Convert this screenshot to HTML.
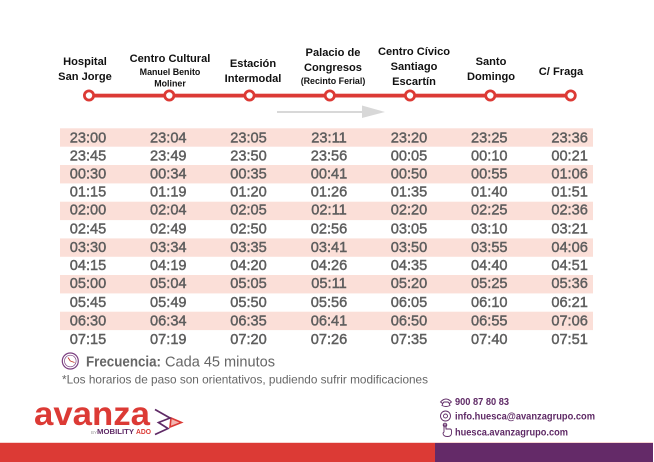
<!DOCTYPE html>
<html lang="es">
<head>
<meta charset="utf-8">
<title>Horario Huesca</title>
<style>
html,body{margin:0;padding:0;background:#fff;width:654px;height:462px;overflow:hidden}
svg{display:block;font-family:"Liberation Sans",sans-serif}
.h{font-weight:700;font-size:11.1px;fill:#111;text-anchor:middle}
.s{font-weight:700;font-size:8.9px;fill:#111;text-anchor:middle}
.t text{font-size:14.6px;fill:#5e5e5e;text-anchor:middle;stroke:#5e5e5e;stroke-width:.45}
.c{font-weight:700;font-size:10px;fill:#5f2a66}
.band{fill:#fbdfd8}
</style>
</head>
<body>
<svg width="654" height="462" viewBox="0 0 654 462">
<rect width="654" height="462" fill="#fff"/>

<g>
<g><text class="h" x="85" y="65">Hospital</text><text class="h" x="85" y="80">San Jorge</text></g>
<g><text class="h" x="170" y="62">Centro Cultural</text><text class="s" x="170" y="75">Manuel Benito</text><text class="s" x="170" y="86.5">Moliner</text></g>
<g><text class="h" x="253" y="67">Estación</text><text class="h" x="253" y="82">Intermodal</text></g>
<g><text class="h" x="333" y="56">Palacio de</text><text class="h" x="333" y="71">Congresos</text><text class="s" x="333" y="84">(Recinto Ferial)</text></g>
<g><text class="h" x="414" y="55">Centro Cívico</text><text class="h" x="414" y="70">Santiago</text><text class="h" x="414" y="85">Escartín</text></g>
<g><text class="h" x="491" y="65">Santo</text><text class="h" x="491" y="80">Domingo</text></g>
<g><text class="h" x="561" y="75">C/ Fraga</text></g>
</g>

<g>
<rect x="89" y="93.7" width="482" height="3.8" fill="#dc3a35"/>
<g fill="#fff" stroke="#dc3a35" stroke-width="2.8">
<circle cx="89" cy="95.5" r="4.6"/>
<circle cx="169.3" cy="95.5" r="4.6"/>
<circle cx="249.5" cy="95.5" r="4.6"/>
<circle cx="329.8" cy="95.5" r="4.6"/>
<circle cx="410" cy="95.5" r="4.6"/>
<circle cx="490.3" cy="95.5" r="4.6"/>
<circle cx="570.7" cy="95.5" r="4.6"/>
</g>
</g>

<g>
<rect x="277" y="111" width="86" height="2" fill="#d8d8d8"/>
<polygon points="362,105.5 385,112 362,118" fill="#d8d8d8"/>
</g>

<g>
<rect class="band" x="60" y="128.3" width="533" height="18.4"/>
<rect class="band" x="60" y="165" width="533" height="18.4"/>
<rect class="band" x="60" y="201.7" width="533" height="18.4"/>
<rect class="band" x="60" y="238.4" width="533" height="18.4"/>
<rect class="band" x="60" y="275" width="533" height="18.4"/>
<rect class="band" x="60" y="311.7" width="533" height="18.4"/>
</g>

<g class="t">
<g><text x="88" y="142.6">23:00</text><text x="168.3" y="142.6">23:04</text><text x="248.5" y="142.6">23:05</text><text x="329" y="142.6">23:11</text><text x="409" y="142.6">23:20</text><text x="489.3" y="142.6">23:25</text><text x="569.6" y="142.6">23:36</text></g>
<g><text x="88" y="160.7">23:45</text><text x="168.3" y="160.7">23:49</text><text x="248.5" y="160.7">23:50</text><text x="329" y="160.7">23:56</text><text x="409" y="160.7">00:05</text><text x="489.3" y="160.7">00:10</text><text x="569.6" y="160.7">00:21</text></g>
<g><text x="88" y="178.6">00:30</text><text x="168.3" y="178.6">00:34</text><text x="248.5" y="178.6">00:35</text><text x="329" y="178.6">00:41</text><text x="409" y="178.6">00:50</text><text x="489.3" y="178.6">00:55</text><text x="569.6" y="178.6">01:06</text></g>
<g><text x="88" y="196.6">01:15</text><text x="168.3" y="196.6">01:19</text><text x="248.5" y="196.6">01:20</text><text x="329" y="196.6">01:26</text><text x="409" y="196.6">01:35</text><text x="489.3" y="196.6">01:40</text><text x="569.6" y="196.6">01:51</text></g>
<g><text x="88" y="214.7">02:00</text><text x="168.3" y="214.7">02:04</text><text x="248.5" y="214.7">02:05</text><text x="329" y="214.7">02:11</text><text x="409" y="214.7">02:20</text><text x="489.3" y="214.7">02:25</text><text x="569.6" y="214.7">02:36</text></g>
<g><text x="88" y="233.5">02:45</text><text x="168.3" y="233.5">02:49</text><text x="248.5" y="233.5">02:50</text><text x="329" y="233.5">02:56</text><text x="409" y="233.5">03:05</text><text x="489.3" y="233.5">03:10</text><text x="569.6" y="233.5">03:21</text></g>
<g><text x="88" y="252">03:30</text><text x="168.3" y="252">03:34</text><text x="248.5" y="252">03:35</text><text x="329" y="252">03:41</text><text x="409" y="252">03:50</text><text x="489.3" y="252">03:55</text><text x="569.6" y="252">04:06</text></g>
<g><text x="88" y="270">04:15</text><text x="168.3" y="270">04:19</text><text x="248.5" y="270">04:20</text><text x="329" y="270">04:26</text><text x="409" y="270">04:35</text><text x="489.3" y="270">04:40</text><text x="569.6" y="270">04:51</text></g>
<g><text x="88" y="288">05:00</text><text x="168.3" y="288">05:04</text><text x="248.5" y="288">05:05</text><text x="329" y="288">05:11</text><text x="409" y="288">05:20</text><text x="489.3" y="288">05:25</text><text x="569.6" y="288">05:36</text></g>
<g><text x="88" y="307">05:45</text><text x="168.3" y="307">05:49</text><text x="248.5" y="307">05:50</text><text x="329" y="307">05:56</text><text x="409" y="307">06:05</text><text x="489.3" y="307">06:10</text><text x="569.6" y="307">06:21</text></g>
<g><text x="88" y="325.6">06:30</text><text x="168.3" y="325.6">06:34</text><text x="248.5" y="325.6">06:35</text><text x="329" y="325.6">06:41</text><text x="409" y="325.6">06:50</text><text x="489.3" y="325.6">06:55</text><text x="569.6" y="325.6">07:06</text></g>
<g><text x="88" y="344">07:15</text><text x="168.3" y="344">07:19</text><text x="248.5" y="344">07:20</text><text x="329" y="344">07:26</text><text x="409" y="344">07:35</text><text x="489.3" y="344">07:40</text><text x="569.6" y="344">07:51</text></g>
</g>

<g fill="none" stroke="#7b3f80">
<circle cx="70.3" cy="361" r="8" stroke-width="1.2"/>
<circle cx="70.3" cy="361" r="5.8" stroke-width=".7"/>
<path d="M70.3 361 L68 357.5 M70.3 361 L74.5 362.5" stroke="#c0392b" stroke-width=".9"/>
</g>
<text x="86" y="366.5" font-size="15" font-weight="700" fill="#666" textLength="75" lengthAdjust="spacingAndGlyphs">Frecuencia:</text>
<text x="165" y="366.5" font-size="15" fill="#666" textLength="110" lengthAdjust="spacingAndGlyphs">Cada 45 minutos</text>
<text x="62" y="383.5" font-size="12" fill="#666" textLength="366" lengthAdjust="spacingAndGlyphs">*Los horarios de paso son orientativos, pudiendo sufrir modificaciones</text>

<g>
<text x="34" y="425" font-size="33" font-weight="700" fill="#dc3a35" textLength="116" lengthAdjust="spacingAndGlyphs">avanza</text>
<text x="91" y="434" font-size="4.500" fill="#999">BY</text>
<text x="97" y="434" font-size="7" font-weight="700" fill="#5f2a66" textLength="37" lengthAdjust="spacingAndGlyphs">MOBILITY</text>
<text x="136" y="434" font-size="7" font-weight="700" fill="#dc3a35" textLength="15" lengthAdjust="spacingAndGlyphs">ADO</text>
<polygon points="171,418 181.5,422.5 170,427" fill="#f3b6b1" stroke="#dc3a35" stroke-width="1.6"/>
<polyline points="155,409.5 170,418 158.5,422.500 168,428.500 155,434.500" fill="none" stroke="#5f2a66" stroke-width="1.7"/>
</g>

<g fill="none" stroke="#5f2a66" stroke-width=".9">
<path d="M440.5 402 q5.5 -6 11 0 l-2 1.5 -1.5 -1.5 h-4 l-1.5 1.5 z"/>
<path d="M443 403 l-1 2.5 q4 2 8 0 l-1 -2.5"/>
</g>
<text class="c" x="455" y="405" textLength="54" lengthAdjust="spacingAndGlyphs">900 87 80 83</text>
<g fill="none" stroke="#5f2a66" stroke-width=".9">
<circle cx="445.5" cy="416" r="5"/>
<circle cx="445.5" cy="416" r="2"/>
</g>
<text class="c" x="455" y="419.5" textLength="140" lengthAdjust="spacingAndGlyphs">info.huesca@avanzagrupo.com</text>
<g fill="none" stroke="#5f2a66" stroke-width=".9">
<path d="M444 432 v-7 h2 v4 h4 q1.500 0 1.500 2 v2 q0 3.500 -4 3.500 q-4.500 0 -4.500 -3.500 z"/>
<circle cx="445" cy="425" r="1.800"/>
</g>
<text class="c" x="455" y="435.5" textLength="113" lengthAdjust="spacingAndGlyphs">huesca.avanzagrupo.com</text>

<g>
<rect x="0" y="442.500" width="653" height="1" fill="#efa8a4"/>
<rect x="0" y="443" width="435" height="19" fill="#dc3a35"/>
<rect x="435" y="443" width="218" height="19" fill="#642a68"/>
</g>
</svg>
</body>
</html>
